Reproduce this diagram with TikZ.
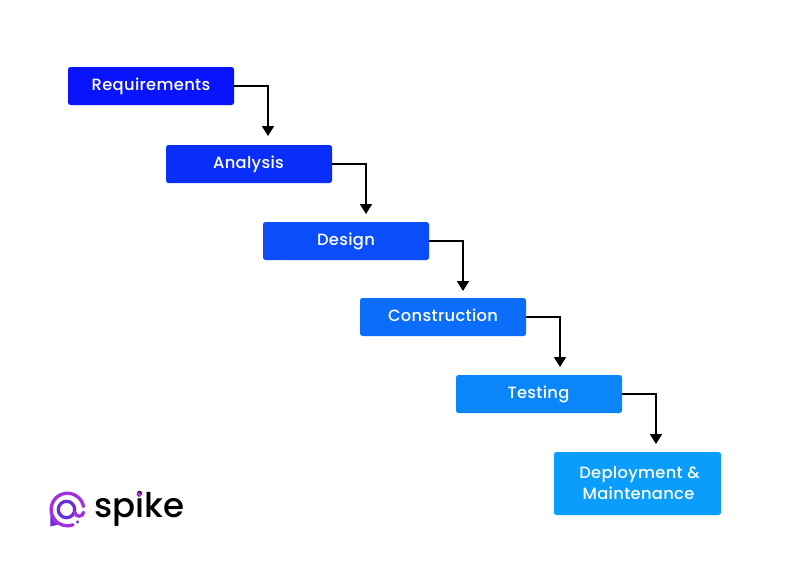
\documentclass[tikz,border=0pt]{standalone}
\usepackage{fontspec}
\setmainfont{Poppins Medium}
\usetikzlibrary{arrows.meta}
\definecolor{c1}{HTML}{0A14FA}
\definecolor{c2}{HTML}{0A2EFA}
\definecolor{c3}{HTML}{0B4DFA}
\definecolor{c4}{HTML}{0B6DFA}
\definecolor{c5}{HTML}{0A85FA}
\definecolor{c6}{HTML}{0A9DFB}
\definecolor{logoA}{HTML}{A030E0}
\definecolor{logoB}{HTML}{6A2FD8}
\tikzset{
  stage/.style={rounded corners=2.5pt,minimum width=166pt,minimum height=38pt,inner sep=0pt,text=white,font=\fontsize{16.3}{20}\selectfont\addfontfeatures{LetterSpace=2},align=center},
  link/.style={draw=black,line width=1.8pt,-{Triangle[length=10pt,width=12pt]}},
  ring/.style={line width=3.3pt,line cap=round},
}
\begin{document}
\begin{tikzpicture}[x=1pt,y=-1pt]
\useasboundingbox (0,0) rectangle (800,566);
\fill[white] (0,0) rectangle (800,566);
\node[stage,fill=c1] (req) at (151,86) {\raisebox{2pt}{Requirements}};
\node[stage,fill=c2] (ana) at (249,164) {\hspace{-1pt}\raisebox{2pt}{Analysis}};
\node[stage,fill=c3] (des) at (346,241) {\raisebox{2pt}{Design}};
\node[stage,fill=c4] (con) at (443,317) {\raisebox{3pt}{Construction}};
\node[stage,fill=c5] (tes) at (539,394) {\hspace{-1pt}\raisebox{2pt}{Testing}};
\node[stage,fill=c6,minimum width=167pt,minimum height=63pt] (dep) at (637.5,483.5) {\hspace{4pt}\raisebox{2pt}{Deployment \&}\\[-0.5pt]\hspace{2pt}\raisebox{1pt}{Maintenance}};
\coordinate (e1) at (268,136);
\coordinate (e2) at (366,214);
\coordinate (e3) at (463,291);
\coordinate (e4) at (560,367);
\coordinate (e5) at (656,444);
\draw[link] (req.east) -| (e1);
\draw[link] (ana.east) -| (e2);
\draw[link] (des.east) -| (e3);
\draw[link] (con.east) -| (e4);
\draw[link] (tes.east) -| (e5);
% logo: local coordinates, y up, origin at the centre of the mark
\begin{scope}[x=1pt,y=1pt,shift={(67.5pt,-509.5pt)}]
\fill[logoB] (-17.2,-6) -- (-17.2,-17) -- (-7,-14.5) -- (-13,-9) -- cycle;
\draw[ring,draw=logoA] (5.5,-15.3) arc[start angle=-70,end angle=-350,radius=16.3pt];
\draw[ring,draw=logoB] (-1,0) circle[radius=8.2pt];
\draw[ring,draw=logoA] (16,-2.8) .. controls (15.7,-7.5) and (8,-8.5) .. (7.2,-2.5);
\fill[logoB] (10,-12.5) circle[radius=1.6pt];
\end{scope}
\node[inner sep=0pt,anchor=west,text=black,font=\fontsize{34}{40}\selectfont] (logo) at (94,509) {spike};
\fill[logoA] (139,494.5) circle[radius=2.4pt];
\end{tikzpicture}
\end{document}
